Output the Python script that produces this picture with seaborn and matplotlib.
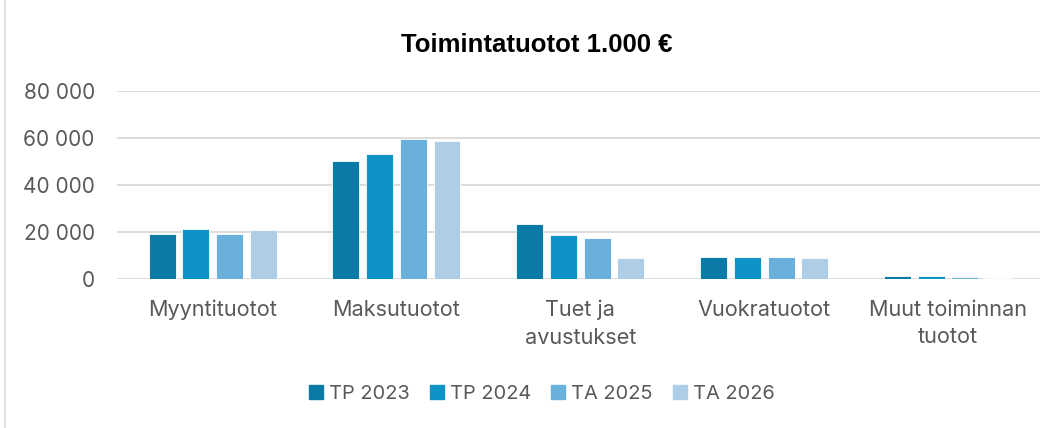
import pandas as pd
import seaborn as sns
import matplotlib.pyplot as plt
from matplotlib.lines import Line2D
from matplotlib.ticker import FuncFormatter

# categories and series (1 000 €)
categories = ["Myyntituotot", "Maksutuotot", "Tuet ja\navustukset", "Vuokratuotot", "Muut toiminnan\ntuotot"]
years = ["TP 2023", "TP 2024", "TA 2025", "TA 2026"]
tp2023 = [19000, 50200, 23300, 9150, 1150]
tp2024 = [21300, 53200, 18600, 9300, 1150]
ta2025 = [19100, 59600, 17600, 9150, 700]
ta2026 = [20900, 58600, 9000, 8850, 300]
colors = ["#0A7AA6", "#0E93C7", "#6AB0DC", "#AECDE7"]

rows = []
for year, vals in zip(years, [tp2023, tp2024, ta2025, ta2026]):
    for cat, v in zip(categories, vals):
        rows.append((cat, year, v))
df = pd.DataFrame(rows, columns=["category", "year", "value"])

sns.set_style("white")
plt.rcParams["font.family"] = ["Inter", "DejaVu Sans"]
text_gray = "#595959"

fig = plt.figure(figsize=(10.61, 4.28), dpi=100)
ax = fig.add_axes([117 / 1061, 149 / 428, 923 / 1061, 188 / 428])

sns.barplot(data=df, x="category", y="value", hue="year", order=categories, hue_order=years,
            palette=colors, saturation=1, width=0.733, gap=0.2, edgecolor="white", linewidth=0.6, ax=ax)

ax.set_ylim(0, 80000)
ax.set_xlim(-0.52, 4.5)
ax.set_yticks([0, 20000, 40000, 60000, 80000])
ax.yaxis.set_major_formatter(FuncFormatter(lambda v, p: f"{int(v):,}".replace(",", " ")))
ax.grid(axis="y", color="#D9D9D9", linewidth=1.3)
ax.set_axisbelow(True)
for s in ax.spines.values():
    s.set_visible(False)
ax.set_xlabel("")
ax.set_ylabel("")
ax.tick_params(axis="both", length=0, labelcolor=text_gray)
ax.tick_params(axis="y", pad=16, labelsize=15)
ax.tick_params(axis="x", pad=15, labelsize=15.6)
for lbl in ax.get_xticklabels():
    lbl.set_linespacing(1.45)

ax.legend_.remove()
handles = [plt.Rectangle((0, 0), 1, 1, color=c) for c in colors]
fig.legend(handles, years, loc="center", bbox_to_anchor=(542 / 1061, 1 - 394 / 428), ncol=4, frameon=False,
           fontsize=14.4, labelcolor=text_gray, handlelength=0.7, handleheight=0.7,
           handletextpad=0.3, columnspacing=1.0)

fig.text(537 / 1061, 1 - 45 / 428, "Toimintatuotot 1.000 €", ha="center", va="center",
         fontsize=18.5, fontweight="bold", family="Liberation Sans", color="black")

# chart area border on the left
fig.add_artist(Line2D([5 / 1061, 5 / 1061], [0, 1], color="#D9D9D9", linewidth=1.2, transform=fig.transFigure))

fig.savefig("out.png", dpi=100)
